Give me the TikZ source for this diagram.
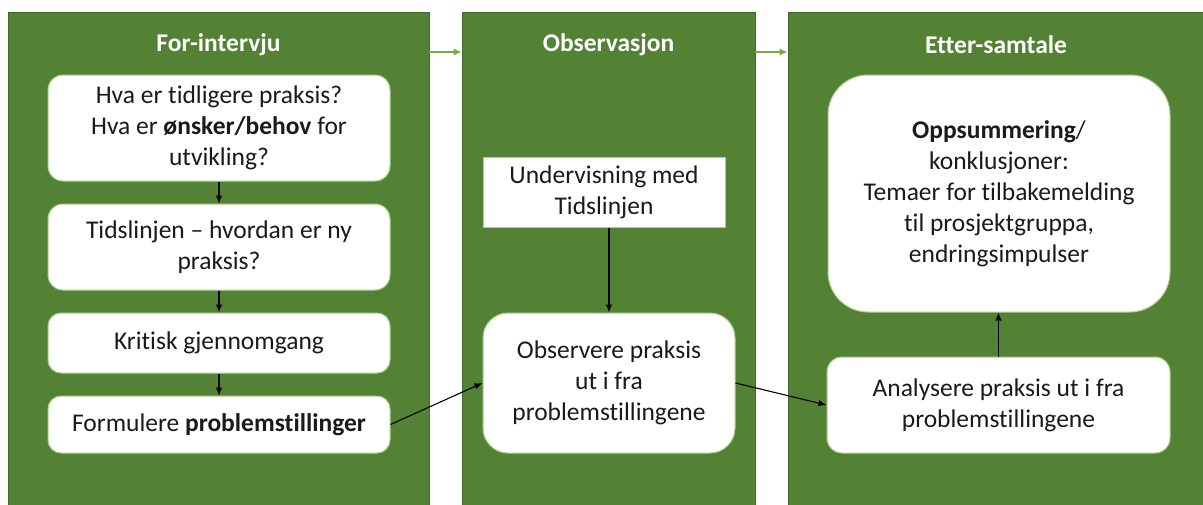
\documentclass[tikz,border=0pt]{standalone}
\usepackage{fontspec}
\setmainfont{Carlito}[Ligatures=NoCommon]
\usetikzlibrary{arrows.meta}
\definecolor{panelgreen}{HTML}{548235}
\definecolor{paneledge}{HTML}{43692A}
\definecolor{lightgreen}{HTML}{70AD47}
\definecolor{boxedge}{HTML}{A9D18E}
\definecolor{txt}{HTML}{1A1A1A}
\begin{document}
\begin{tikzpicture}[x=1pt,y=-1pt,
  panel/.style={rectangle,fill=panelgreen,draw=paneledge,line width=0.8pt,inner sep=0pt},
  ptitle/.style={text=white,font=\fontsize{25.5}{30}\selectfont\bfseries,inner sep=0pt},
  wbox/.style={rectangle,fill=white,draw=boxedge,line width=1pt,inner sep=0pt,align=center,text=txt,
    font=\fontsize{25.5}{31}\selectfont},
  conn/.style={-{Latex[length=8pt,width=6.5pt]},line width=1.1pt,black},
  phase/.style={-{Latex[length=8pt,width=7pt]},line width=1.2pt,lightgreen}]
\useasboundingbox (0,0) rectangle (1203,504);
% panels
\node[panel,minimum width=421pt,minimum height=494pt] (p1) at (218.5,259) {};
\node[panel,minimum width=293pt,minimum height=494pt] (p2) at (608.5,259) {};
\node[panel,minimum width=416pt,minimum height=494pt] (p3) at (996,259) {};
% titles
\node[ptitle] (t1) at (218.5,45) {For-intervju};
\node[ptitle] (t2) at (608.5,45) {Observasjon};
\node[ptitle] (t3) at (996,45) {Etter-samtale};
% phase arrows
\coordinate (ya) at (0,52);
\draw[phase] (p1.east |- ya) -- (p2.west |- ya);
\draw[phase] (p2.east |- ya) -- (p3.west |- ya);
% left column
\node[wbox,rounded corners=15pt,minimum width=342pt,minimum height=106pt] (b1) at (219,128)
  {Hva er tidligere praksis?\\Hva er \textbf{ønsker/behov} for\\utvikling?};
\node[wbox,rounded corners=15pt,minimum width=342pt,minimum height=86pt] (b2) at (219,247)
  {Tidslinjen – hvordan er ny\\praksis?};
\node[wbox,rounded corners=13pt,minimum width=342pt,minimum height=60pt] (b3) at (219,343)
  {Kritisk gjennomgang};
\node[wbox,rounded corners=13pt,minimum width=342pt,minimum height=57pt] (b4) at (219,424.5)
  {Formulere \textbf{problemstillinger}};
% middle column
\node[wbox,minimum width=242pt,minimum height=70pt] (u) at (604,192)
  {Undervisning med\\Tidslinjen};
\node[wbox,rounded corners=25pt,minimum width=252pt,minimum height=140pt] (o) at (609,383)
  {Observere praksis\\ut i fra\\problemstillingene};
% right column
\node[wbox,rounded corners=40pt,minimum width=342pt,minimum height=237pt] (s) at (999,193.5)
  {\textbf{Oppsummering}/\\konklusjoner:\\Temaer for tilbakemelding\\til prosjektgruppa,\\endringsimpulser};
\node[wbox,rounded corners=15pt,minimum width=343pt,minimum height=96pt] (a) at (998.5,405)
  {Analysere praksis ut i fra\\problemstillingene};
% connectors
\draw[conn] (b1) -- (b2);
\draw[conn] (b2) -- (b3);
\draw[conn] (b3) -- (b4);
\draw[conn] (u.south -| o.north) -- (o.north);
\draw[conn] (b4.east) -- (o.west);
\draw[conn] (o.east) -- (a.west);
\draw[conn] (a.north) -- (s.south -| a.north);
\end{tikzpicture}
\end{document}
